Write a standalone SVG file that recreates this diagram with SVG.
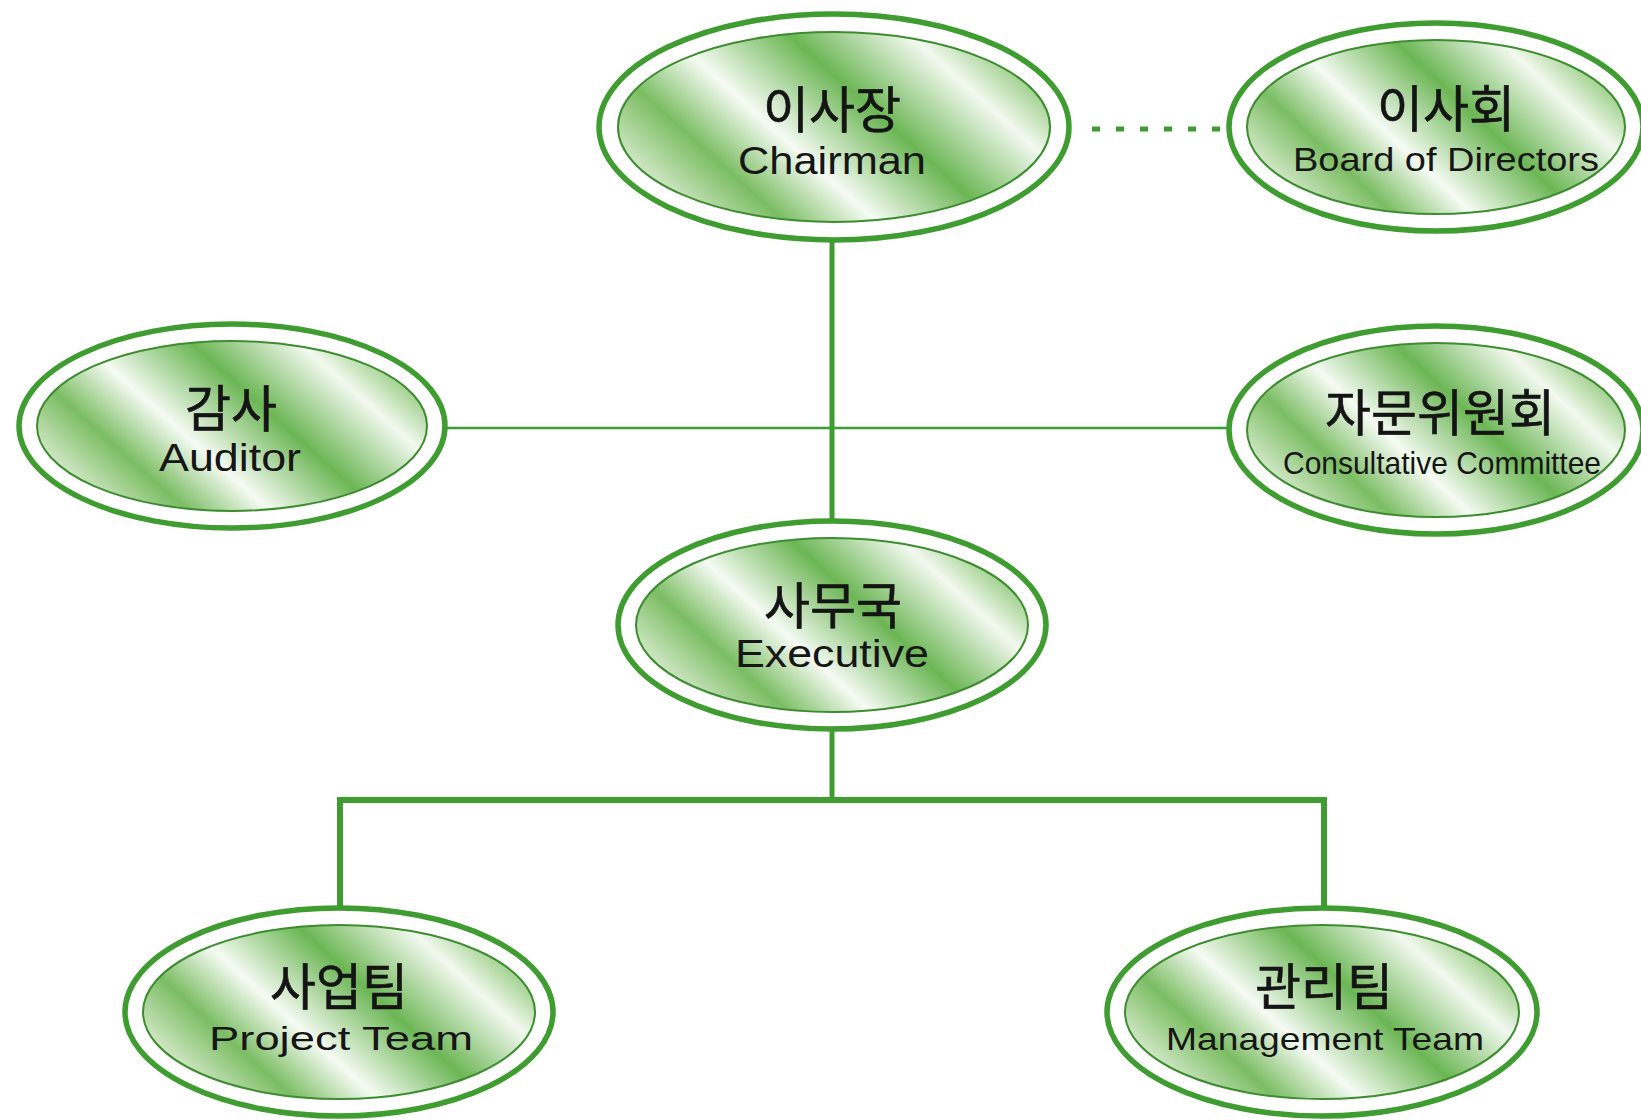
<svg xmlns="http://www.w3.org/2000/svg" width="1641" height="1120" viewBox="0 0 1641 1120">
<defs>
<linearGradient id="metal" x1="0.05" y1="0.72" x2="0.95" y2="0.28">
<stop offset="0" stop-color="#d0e7c5"/>
<stop offset="0.18" stop-color="#7bbd63"/>
<stop offset="0.37" stop-color="#f6fbf4"/>
<stop offset="0.62" stop-color="#6cb655"/>
<stop offset="0.87" stop-color="#f3f9f0"/>
<stop offset="1" stop-color="#a2d18f"/>
</linearGradient>
<style>
.outer{fill:#ffffff;stroke:#3f9c30;stroke-width:5.5}
.inner{fill:url(#metal);stroke:#3d8d30;stroke-width:2}
.ko{font-family:"Noto Sans CJK KR","Noto Sans",sans-serif;font-size:50px;fill:#141414;stroke:#141414;stroke-width:0.6;text-anchor:middle}
.en{font-family:"Liberation Sans",Arial,sans-serif;fill:#161616;text-anchor:middle}
.conn{stroke:#3f9c30;fill:none}
</style>
</defs>
<rect width="1641" height="1120" fill="#ffffff"/>
<g id="connectors">
<line class="conn" x1="832" y1="240" x2="832" y2="521" stroke-width="5"/>
<line class="conn" x1="445" y1="428" x2="1229" y2="428" stroke-width="2.5"/>
<line class="conn" x1="1092" y1="129" x2="1222" y2="129" stroke-width="5" stroke-dasharray="8 16" stroke="#5aa84a"/>
<line class="conn" x1="832" y1="729" x2="832" y2="800" stroke-width="5"/>
<polyline class="conn" points="340,910 340,800 1324,800 1324,910" stroke-width="6"/>
</g>
<g id="chairman">
<ellipse class="outer" cx="834" cy="127" rx="235" ry="113"/>
<ellipse class="inner" cx="834" cy="127" rx="216" ry="95"/>
<text class="ko" x="832" y="128">이사장</text>
<text class="en" x="832" y="174" font-size="38" textLength="188" lengthAdjust="spacingAndGlyphs">Chairman</text>
</g>
<g id="board">
<ellipse class="outer" cx="1436" cy="127" rx="207" ry="104"/>
<ellipse class="inner" cx="1436" cy="127" rx="189" ry="87"/>
<text class="ko" x="1446" y="127">이사회</text>
<text class="en" x="1446" y="171" font-size="34" textLength="306" lengthAdjust="spacingAndGlyphs">Board of Directors</text>
</g>
<g id="auditor">
<ellipse class="outer" cx="232" cy="426" rx="213" ry="102"/>
<ellipse class="inner" cx="232" cy="426" rx="195" ry="85"/>
<text class="ko" x="231" y="427">감사</text>
<text class="en" x="230" y="471" font-size="38" textLength="142" lengthAdjust="spacingAndGlyphs">Auditor</text>
</g>
<g id="consultative">
<ellipse class="outer" cx="1436" cy="430" rx="207" ry="104"/>
<ellipse class="inner" cx="1436" cy="430" rx="189" ry="87"/>
<text class="ko" x="1440" y="431">자문위원회</text>
<text class="en" x="1442" y="474" font-size="32" textLength="318" lengthAdjust="spacingAndGlyphs">Consultative Committee</text>
</g>
<g id="executive">
<ellipse class="outer" cx="832" cy="625" rx="214" ry="104"/>
<ellipse class="inner" cx="832" cy="625" rx="196" ry="87"/>
<text class="ko" x="833" y="624">사무국</text>
<text class="en" x="832" y="667" font-size="38" textLength="194" lengthAdjust="spacingAndGlyphs">Executive</text>
</g>
<g id="project">
<ellipse class="outer" cx="339" cy="1012" rx="214" ry="104"/>
<ellipse class="inner" cx="339" cy="1012" rx="196" ry="87"/>
<text class="ko" x="339" y="1005">사업팀</text>
<text class="en" x="341" y="1050" font-size="34" textLength="264" lengthAdjust="spacingAndGlyphs">Project Team</text>
</g>
<g id="management">
<ellipse class="outer" cx="1322" cy="1012" rx="215" ry="104"/>
<ellipse class="inner" cx="1322" cy="1012" rx="197" ry="87"/>
<text class="ko" x="1324" y="1005">관리팀</text>
<text class="en" x="1325" y="1050" font-size="32" textLength="318" lengthAdjust="spacingAndGlyphs">Management Team</text>
</g>
</svg>
